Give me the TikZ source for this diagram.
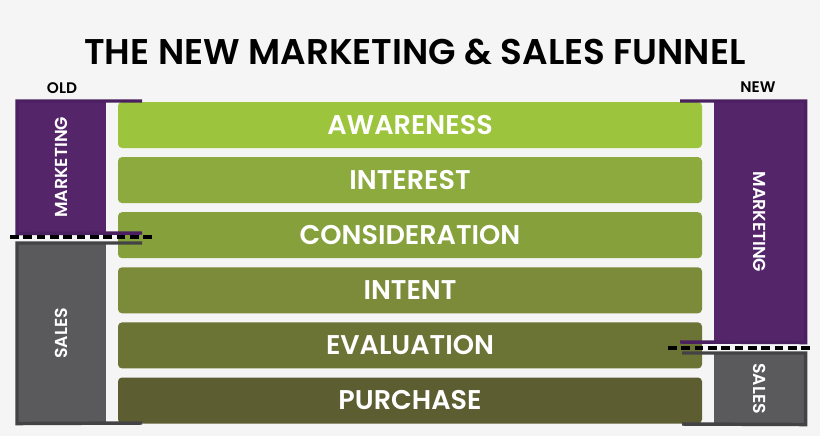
\documentclass[tikz,border=0pt]{standalone}
\usepackage{fontspec}
\setmainfont{Poppins}[BoldFont={Poppins SemiBold}]
\usepackage{tikz}

\definecolor{bgcol}{HTML}{F5F5F5}
\definecolor{awarecol}{HTML}{9CC43C}
\definecolor{interestcol}{HTML}{8CAA3E}
\definecolor{considercol}{HTML}{86A03C}
\definecolor{intentcol}{HTML}{7B8B3A}
\definecolor{evalcol}{HTML}{6B7335}
\definecolor{purchasecol}{HTML}{5C5E31}
\definecolor{mktfill}{HTML}{55256A}
\definecolor{mktline}{HTML}{4A2061}
\definecolor{salesfill}{HTML}{5A5A5C}
\definecolor{salesline}{HTML}{434345}

\tikzset{
    stage/.style={fill=#1, rounded corners=3pt, minimum width=438pt, minimum height=34.5pt,
        inner sep=0pt, text=white, font=\bfseries\fontsize{20.3}{20.3}\selectfont},
    side/.style={fill=#1, inner sep=0pt, anchor=north west},
    sidetext/.style={text=white, font=\bfseries\fontsize{13}{13}\selectfont},
    bracket/.style={draw=#1, line width=2.6pt},
    cutline/.style={draw=black, line width=2.6pt, dash pattern=on 6.5pt off 3.5pt},
}

\begin{document}
\begin{tikzpicture}[x=0.75pt, y=-0.75pt]

    \fill[bgcol] (0,0) rectangle (820,436);
    \useasboundingbox (0,0) rectangle (820,436);

    \node[font=\bfseries\fontsize{26.8}{26.8}\selectfont] (title) at (415,52) {THE NEW MARKETING \& SALES FUNNEL};

    % stages
    \node[stage=awarecol]    (aware)    at (410,125)   {AWARENESS};
    \node[stage=interestcol] (interest) at (410,180.1) {INTEREST};
    \node[stage=considercol] (consider) at (410,235.2) {CONSIDERATION};
    \node[stage=intentcol]   (intent)   at (410,290.3) {INTENT};
    \node[stage=evalcol]     (eval)     at (410,345.4) {EVALUATION};
    \node[stage=purchasecol] (purchase) at (410,400.5) {PURCHASE};

    % old
    \node[font=\bfseries\fontsize{11.5}{11.5}\selectfont] (old) at (62,88) {OLD};
    \node[side=mktfill, minimum width=66.75pt, minimum height=99pt] (oldmkt) at (17,101) {};
    \node[side=salesfill, minimum width=66.75pt, minimum height=135pt] (oldsales) at (17,243) {};
    \node[sidetext, rotate=90] (oldmkttext) at (oldmkt.center) {MARKETING};
    \node[sidetext, rotate=90] (oldsalestext) at (oldsales.center) {SALES};
    \draw[bracket=mktline] (142,101) -- (oldmkt.north west) -- (oldmkt.south west) -- (142,233);
    \draw[bracket=salesline] (142,243) -- (oldsales.north west) -- (oldsales.south west) -- (142,423);
    \draw[cutline] (10,237) -- (152,237);

    % new
    \node[font=\bfseries\fontsize{11.5}{11.5}\selectfont] (new) at (758,87) {NEW};
    \node[side=mktfill, minimum width=68.25pt, minimum height=180.75pt] (newmkt) at (714,101) {};
    \node[side=salesfill, minimum width=68.25pt, minimum height=53.25pt] (newsales) at (714,353) {};
    \node[sidetext, rotate=-90] (newmkttext) at (newmkt.center) {MARKETING};
    \node[sidetext, rotate=-90] (newsalestext) at (newsales.center) {SALES};
    \draw[bracket=mktline] (680,101) -- (newmkt.north east) -- (newmkt.south east) -- (680,342);
    \draw[bracket=salesline] (682,353) -- (newsales.north east) -- (newsales.south east) -- (682,424);
    \draw[cutline] (668,348) -- (810,348);

\end{tikzpicture}
\end{document}
